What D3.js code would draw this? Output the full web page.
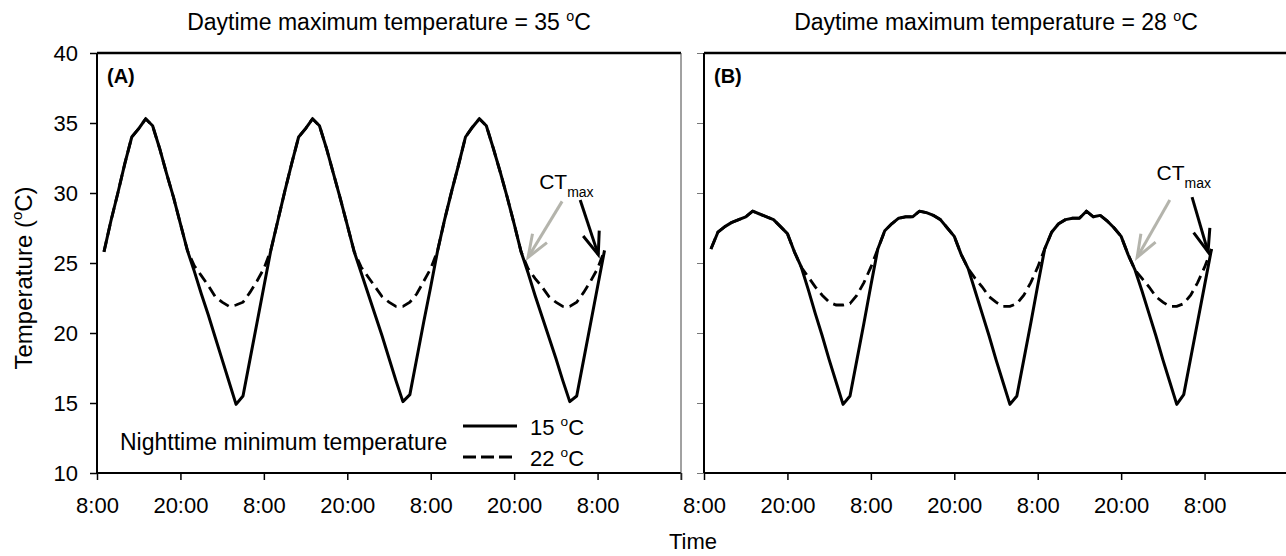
<!DOCTYPE html>
<html>
<head>
<meta charset="utf-8">
<script src="https://cdnjs.cloudflare.com/ajax/libs/d3/7.8.5/d3.min.js"></script>
<style>
    body { margin: 0; background: #fff; }
    svg { font-family: "Liberation Sans", Arial, sans-serif; }
</style>
</head>
<body>
<div id="chart"></div>
<script>

// hours after 8:00 on the first day
const hours = [1, 2, 3, 4, 5, 6, 7, 8, 9, 10, 11, 12, 13, 14, 15, 16, 17, 18, 19, 20, 21, 22, 23, 24,
    25, 26, 27, 28, 29, 30, 31, 32, 33, 34, 35, 36, 37, 38, 39, 40, 41, 42, 43, 44, 45, 46, 47, 48,
    49, 50, 51, 52, 53, 54, 55, 56, 57, 58, 59, 60, 61, 62, 63, 64, 65, 66, 67, 68, 69, 70, 71, 72, 73];

// panel A, nighttime minimum 15 C and 22 C
const tempA15 = [25.8, 28.0, 30.0, 32.1, 34.0, 34.6, 35.3, 34.8, 33.2, 31.4, 29.7, 27.8, 25.9,
    24.4, 22.8, 21.3, 19.7, 18.1, 16.5, 14.9, 15.5, 18.1, 20.7, 23.3,
    25.9, 28.0, 30.1, 32.1, 34.0, 34.6, 35.3, 34.8, 33.2, 31.4, 29.6, 27.7, 25.8,
    24.3, 22.8, 21.3, 19.8, 18.2, 16.6, 15.1, 15.6, 18.2, 20.8, 23.3,
    25.9, 28.1, 30.1, 32.0, 34.0, 34.7, 35.3, 34.8, 33.2, 31.5, 29.7, 27.8, 25.8,
    24.3, 22.7, 21.2, 19.7, 18.2, 16.6, 15.1, 15.5, 18.1, 20.7, 23.3,
    25.9];
const tempA22 = [25.8, 28.0, 30.0, 32.1, 34.0, 34.6, 35.3, 34.8, 33.2, 31.4, 29.7, 27.8, 25.9,
    24.8, 24.1, 23.4, 22.6, 22.2, 21.9, 22.0, 22.2, 22.9, 23.7, 24.6,
    25.9, 28.0, 30.1, 32.1, 34.0, 34.6, 35.3, 34.8, 33.2, 31.4, 29.6, 27.7, 25.8,
    24.7, 24.0, 23.3, 22.6, 22.2, 21.9, 21.9, 22.2, 22.8, 23.7, 24.6,
    25.9, 28.1, 30.1, 32.0, 34.0, 34.7, 35.3, 34.8, 33.2, 31.5, 29.7, 27.8, 25.8,
    24.6, 23.9, 23.3, 22.6, 22.2, 21.9, 21.9, 22.2, 22.9, 23.7, 24.6,
    25.9];

// panel B
const tempB15 = [26.0, 27.2, 27.6, 27.9, 28.1, 28.3, 28.7, 28.5, 28.3, 28.1, 27.6, 27.1, 25.8,
    24.7, 23.1, 21.4, 19.8, 18.1, 16.5, 14.9, 15.5, 18.1, 20.7, 23.4,
    26.0, 27.3, 27.8, 28.2, 28.3, 28.3, 28.7, 28.6, 28.4, 28.1, 27.5, 26.9, 25.6,
    24.6, 23.0, 21.4, 19.8, 18.1, 16.5, 14.9, 15.5, 18.1, 20.7, 23.4,
    26.0, 27.2, 27.8, 28.1, 28.2, 28.2, 28.7, 28.3, 28.4, 28.0, 27.5, 26.9, 25.6,
    24.5, 23.0, 21.4, 19.8, 18.1, 16.5, 14.9, 15.6, 18.2, 20.8, 23.4,
    26.0];
const tempB22 = [26.0, 27.2, 27.6, 27.9, 28.1, 28.3, 28.7, 28.5, 28.3, 28.1, 27.6, 27.1, 25.8,
    24.7, 24.0, 23.3, 22.7, 22.2, 22.0, 22.0, 22.1, 22.7, 23.6, 24.7,
    26.0, 27.3, 27.8, 28.2, 28.3, 28.3, 28.7, 28.6, 28.4, 28.1, 27.5, 26.9, 25.6,
    24.6, 23.9, 23.3, 22.6, 22.2, 21.9, 21.9, 22.1, 22.7, 23.6, 24.7,
    26.0, 27.2, 27.8, 28.1, 28.2, 28.2, 28.7, 28.3, 28.4, 28.0, 27.5, 26.9, 25.6,
    24.5, 23.9, 23.3, 22.6, 22.2, 21.9, 21.9, 22.1, 22.7, 23.6, 24.7,
    26.0];

const xTickHours = [0, 12, 24, 36, 48, 60, 72, 84];
const xTickLabels = ["8:00", "20:00", "8:00", "20:00", "8:00", "20:00", "8:00", ""];
const yTicks = [10, 15, 20, 25, 30, 35, 40];

const panelLetters = ["(A)", "(B)"];
const dayMax = ["35", "28"];
const legendLabels = ["15", "22"];

// CTmax arrows: [tail hour, tail temp, tip hour, tip temp]
const arrowsA = [[66.9, 29.4, 62.0, 25.4], [69.5, 29.5, 72.1, 25.6]];
const arrowsB = [[67.0, 29.5, 62.3, 25.4], [70.2, 29.7, 72.5, 25.8]];
const arrowColors = ["#b4b4ac", "#000"];


let svg = d3.select("#chart").append("svg")
    .attr("width", 1286)
    .attr("height", 556);

let plotW = 584, plotH = 420, plotTop = 53;

let x = d3.scaleLinear().domain([0, 84]).range([0, plotW]);
let y = d3.scaleLinear().domain([10, 40]).range([plotH, 0]);

// adds "pre" + superscript o + "post"
function degree(text, pre, post, size) {
    text.append("tspan").text(pre);
    text.append("tspan").attr("font-size", size * 0.62).attr("dy", -size * 0.4).text("o");
    text.append("tspan").attr("dy", size * 0.4).text(post);
}

function drawPanel(i, left, s15, s22, arrows) {
    let g = svg.append("g").attr("transform", "translate(" + left + "," + plotTop + ")");

    let xAxis = d3.axisBottom(x)
        .tickValues(xTickHours)
        .tickFormat((d, k) => xTickLabels[k])
        .tickSize(7)
        .tickSizeOuter(0)
        .tickPadding(17);

    let yAxis = d3.axisLeft(y)
        .tickValues(yTicks)
        .tickSize(7)
        .tickSizeOuter(0)
        .tickPadding(12);
    if (i == 1) yAxis.tickFormat("");

    let xg = g.append("g").attr("transform", "translate(0," + plotH + ")").call(xAxis);
    let yg = g.append("g").call(yAxis);
    xg.select(".domain").remove();
    yg.select(".domain").remove();
    xg.attr("font-family", null);
    yg.attr("font-family", null);
    xg.selectAll("text").attr("font-size", 22).attr("fill", "#000");
    yg.selectAll("text").attr("font-size", 22).attr("fill", "#000");
    xg.selectAll("line").attr("stroke", "#000").attr("stroke-width", 1.5);
    yg.selectAll("line").attr("stroke", i == 1 ? "#777" : "#000").attr("stroke-width", i == 1 ? 1 : 1.5);

    // frame
    g.append("line").attr("x1", 0).attr("x2", plotW).attr("y1", 0).attr("y2", 0)
        .attr("stroke", "#000").attr("stroke-width", 2.5);
    g.append("line").attr("x1", 0).attr("x2", plotW).attr("y1", plotH).attr("y2", plotH)
        .attr("stroke", "#000").attr("stroke-width", 2);
    g.append("line").attr("x1", 0).attr("x2", 0).attr("y1", 0).attr("y2", plotH)
        .attr("stroke", "#000").attr("stroke-width", 2);
    g.append("line").attr("x1", plotW).attr("x2", plotW).attr("y1", 0).attr("y2", plotH + 7)
        .attr("stroke", "#444").attr("stroke-width", 1);

    let line = d3.line()
        .x((d, k) => x(hours[k]))
        .y(d => y(d));

    g.append("path").datum(s15)
        .attr("d", line)
        .attr("fill", "none")
        .attr("stroke", "#000")
        .attr("stroke-width", 3)
        .attr("stroke-linejoin", "round");

    g.append("path").datum(s22)
        .attr("d", line)
        .attr("fill", "none")
        .attr("stroke", "#000")
        .attr("stroke-width", 2.8)
        .attr("stroke-dasharray", "11,6");

    g.append("text")
        .attr("x", 10).attr("y", 30)
        .attr("font-size", 20).attr("font-weight", "bold")
        .text(panelLetters[i]);

    // arrows
    arrows.forEach(function (a, k) {
        let x1 = x(a[0]), y1 = y(a[1]), x2 = x(a[2]), y2 = y(a[3]);
        let ang = Math.atan2(y1 - y2, x1 - x2);
        let len = 24, spread = 0.36;
        let b1 = [x2 + len * Math.cos(ang - spread), y2 + len * Math.sin(ang - spread)];
        let b2 = [x2 + len * Math.cos(ang + spread), y2 + len * Math.sin(ang + spread)];
        g.append("line").attr("x1", x1).attr("y1", y1).attr("x2", x2).attr("y2", y2)
            .attr("stroke", arrowColors[k]).attr("stroke-width", 3);
        g.append("polyline")
            .attr("points", [b1, [x2, y2], b2].map(p => p.join(",")).join(" "))
            .attr("fill", "none")
            .attr("stroke", arrowColors[k]).attr("stroke-width", 3);
    });

    let ctx = i == 0 ? x(63.6) : x(65.1);
    let cty = i == 0 ? 136 : 127;
    let ct = g.append("text").attr("x", ctx).attr("y", cty).attr("font-size", 21);
    ct.append("tspan").text("CT");
    ct.append("tspan").attr("font-size", 14).attr("dy", 8).text("max");

    // title
    let title = svg.append("text")
        .attr("x", left + plotW / 2).attr("y", 30)
        .attr("text-anchor", "middle")
        .attr("font-size", 23);
    degree(title, "Daytime maximum temperature = " + dayMax[i] + " ", "C", 23);

    return g;
}

let gA = drawPanel(0, 97, tempA15, tempA22, arrowsA);
drawPanel(1, 704, tempB15, tempB22, arrowsB);

// legend in panel A
gA.append("text")
    .attr("x", 23).attr("y", 397)
    .attr("font-size", 23)
    .text("Nighttime minimum temperature");

gA.append("line").attr("x1", 366).attr("x2", 420).attr("y1", 373).attr("y2", 373)
    .attr("stroke", "#000").attr("stroke-width", 3);
gA.append("line").attr("x1", 366).attr("x2", 416).attr("y1", 404).attr("y2", 404)
    .attr("stroke", "#000").attr("stroke-width", 3).attr("stroke-dasharray", "13,5");

legendLabels.forEach(function (d, k) {
    let t = gA.append("text")
        .attr("x", 433).attr("y", 382 + k * 31)
        .attr("font-size", 22);
    degree(t, d + " ", "C", 22);
});

// axis titles
let yTitle = svg.append("text")
    .attr("transform", "translate(32,278) rotate(-90)")
    .attr("text-anchor", "middle")
    .attr("font-size", 24);
degree(yTitle, "Temperature (", "C)", 24);

svg.append("text")
    .attr("x", 693).attr("y", 549)
    .attr("text-anchor", "middle")
    .attr("font-size", 22)
    .text("Time");

</script>
</body>
</html>
